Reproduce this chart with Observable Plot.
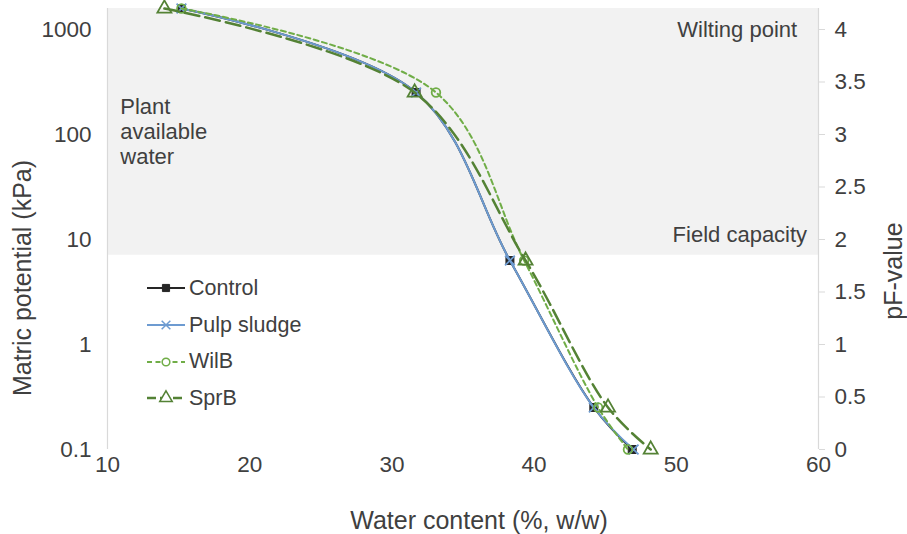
<!DOCTYPE html>
<html>
<head>
<meta charset="utf-8">
<script src="https://cdn.jsdelivr.net/npm/d3@7"></script>
<script src="https://cdn.jsdelivr.net/npm/@observablehq/plot@0.6"></script>
<style>
  body { margin: 0; background: #fff; }
  #chart { position: relative; width: 907px; height: 534px; font-family: "Liberation Sans", Arial, sans-serif; }
  .legend { position: absolute; left: 146px; top: 270px; color: #404040; font-size: 21.5px; }
  .legend .row { display: flex; align-items: center; height: 36.7px; }
  .legend svg { margin-right: 3px; }
</style>
</head>
<body>
<div id="chart"></div>
<script>
// Water retention curves: water content at each suction step (pF)
const seriesNames = ["Control", "Pulp sludge", "WilB", "SprB"];
const pFSteps = [4.2, 3.4, 1.8, 0.4, 0];
const waterControl = [15.2, 31.7, 38.3, 44.2, 46.9];
const waterPulp = [15.2, 31.7, 38.3, 44.2, 47.0];
const waterWilB = [15.2, 33.1, 39.3, 44.5, 46.6];
const waterSprB = [14.0, 31.6, 39.4, 45.2, 48.2];
const waterBySeries = [waterControl, waterPulp, waterWilB, waterSprB];

// Axis ticks
const xTicks = [10, 20, 30, 40, 50, 60];
const kPaTicks = [0.1, 1, 10, 100, 1000];
const pFTicks = [0, 0.5, 1, 1.5, 2, 2.5, 3, 3.5, 4];

// Plant available water zone, in pF
const zoneTop = 4.2;
const zoneBottom = 1.85;

// Text labels placed in data space
const rightNotes = [
  { label: "Wilting point", x: 58.5, pF: 4 },
  { label: "Field capacity", x: 59.2, pF: 2.04 }
];
const leftNotes = [
  { label: "Plant\navailable\nwater", x: 10.9, pF: 3.03 }
];

// pF is log10 of suction in cm water; 0.1 kPa ≈ pF 0
const toKPa = (pF) => Math.pow(10, pF - 1);
const toPF = (kPa) => Math.round((Math.log10(kPa) + 1) * 10) / 10;

const styles = {
  "Control":     { color: "#262626", width: 2,   dash: null,     symbol: "square", r: 4.5, filled: true },
  "Pulp sludge": { color: "#6d9bd1", width: 2,   dash: null,     symbol: "times",  r: 4.5, filled: false },
  "WilB":        { color: "#70ad47", width: 2,   dash: "5,3.5",  symbol: "circle", r: 4.3, filled: false },
  "SprB":        { color: "#548235", width: 2.5, dash: "15,6",   symbol: "triangle", r: 5.2, filled: false }
};

const rows = seriesNames.flatMap((name, i) =>
  waterBySeries[i].map((w, j) => ({ series: name, water: w, pF: pFSteps[j] }))
);

const seriesMarks = seriesNames.flatMap((name) => {
  const s = styles[name];
  const data = rows.filter((d) => d.series === name);
  return [
    Plot.line(data, {
      x: "water", y: (d) => toKPa(d.pF),
      stroke: s.color, strokeWidth: s.width, strokeDasharray: s.dash,
      curve: "catmull-rom"
    }),
    Plot.dot(data, {
      x: "water", y: (d) => toKPa(d.pF),
      symbol: s.symbol, r: s.r,
      fill: s.filled ? s.color : "none",
      stroke: s.color, strokeWidth: s.filled ? 1 : 1.8
    })
  ];
});

const grey = "#d9d9d9";
const textColor = "#404040";
const tickFont = 22.5;
const noteFont = 22;
const titleFont = 25;

const chart = Plot.plot({
  width: 907,
  height: 534,
  marginLeft: 107,
  marginRight: 89,
  marginTop: 8,
  marginBottom: 85,
  style: { fontFamily: "'Liberation Sans', Arial, sans-serif", fontSize: "20px", color: textColor, background: "white", overflow: "visible" },
  x: { domain: [10, 60] },
  y: { type: "log", domain: [toKPa(0), toKPa(zoneTop)] },
  marks: [
    Plot.rect([{ x1: 10, x2: 60, top: zoneTop, bottom: zoneBottom }], {
      x1: "x1", x2: "x2", y1: (d) => toKPa(d.bottom), y2: (d) => toKPa(d.top), fill: "#f2f2f2"
    }),
    Plot.ruleX([10, 60], { stroke: grey, strokeWidth: 1.2 }),
    Plot.axisX({ ticks: xTicks, tickSize: 0, tickPadding: 7, label: null, fontSize: tickFont }),
    Plot.axisY({ ticks: kPaTicks, tickSize: 0, tickPadding: 16, label: null, fontSize: tickFont, tickFormat: (d) => String(d) }),
    Plot.axisY(pFTicks.map(toKPa), {
      anchor: "right", tickSize: 6, tickPadding: 10, label: null, fontSize: tickFont,
      stroke: grey, tickFormat: (d) => String(toPF(d))
    }),
    Plot.text(rightNotes, {
      x: "x", y: (d) => toKPa(d.pF), text: "label", textAnchor: "end",
      lineAnchor: "middle", fontSize: noteFont, fill: textColor
    }),
    Plot.text(leftNotes, {
      x: "x", y: (d) => toKPa(d.pF), text: "label", textAnchor: "start",
      lineAnchor: "middle", lineHeight: 1.14, fontSize: noteFont, fill: textColor
    }),
    ...seriesMarks,
    Plot.text(["Water content (%, w/w)"], { frameAnchor: "bottom", textAnchor: "middle", dx: 16, dy: 71, fontSize: titleFont, fill: textColor, lineAnchor: "middle" }),
    Plot.text(["Matric potential (kPa)"], { frameAnchor: "left", textAnchor: "middle", dx: -85, dy: 49, rotate: -90, fontSize: titleFont, fill: textColor, lineAnchor: "middle" }),
    Plot.text(["pF-value"], { frameAnchor: "right", textAnchor: "middle", dx: 75, dy: 42, rotate: -90, fontSize: titleFont, fill: textColor, lineAnchor: "middle" })
  ]
});

const root = document.getElementById("chart");
root.appendChild(chart);

// Legend
const legend = document.createElement("div");
legend.className = "legend";
for (const name of seriesNames) {
  const s = styles[name];
  const row = document.createElement("div");
  row.className = "row";
  const svg = d3.create("svg").attr("width", 40).attr("height", 20);
  svg.append("line").attr("x1", 1).attr("x2", 39).attr("y1", 10).attr("y2", 10)
    .attr("stroke", s.color).attr("stroke-width", s.width)
    .attr("stroke-dasharray", s.dash ? (name === "SprB" ? "9,4" : "5,3.5") : null);
  const sym = { square: d3.symbolSquare, times: d3.symbolTimes, circle: d3.symbolCircle, triangle: d3.symbolTriangle }[s.symbol];
  svg.append("path").attr("transform", "translate(20,10)")
    .attr("d", d3.symbol(sym, Math.PI * s.r * s.r * 0.8)())
    .attr("fill", s.filled ? s.color : "white").attr("stroke", s.color).attr("stroke-width", s.filled ? 1 : 1.5);
  row.appendChild(svg.node());
  const label = document.createElement("span");
  label.textContent = name;
  row.appendChild(label);
  legend.appendChild(row);
}
root.appendChild(legend);
</script>
</body>
</html>
